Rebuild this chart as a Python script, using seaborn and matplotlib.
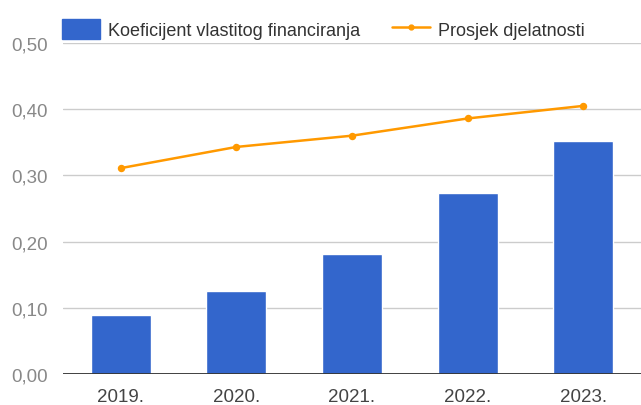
import numpy as np
import pandas as pd

import matplotlib
matplotlib.use('Agg')

import matplotlib.pyplot as plt
import seaborn as sns
from matplotlib.patches import Patch
from matplotlib.lines import Line2D

years = ["2019.", "2020.", "2021.", "2022.", "2023."]
koeficijent = [0.089, 0.125, 0.182, 0.274, 0.352]
prosjek = [0.311, 0.343, 0.360, 0.386, 0.405]
y_ticks = [0.0, 0.1, 0.2, 0.3, 0.4, 0.5]
y_labels = ["0,00", "0,10", "0,20", "0,30", "0,40", "0,50"]

bar_color = "#3366CC"
line_color = "#FF9900"

sns.set_style("white")
plt.rcParams['font.family'] = ['Liberation Sans', 'DejaVu Sans']

df = pd.DataFrame({"godina": years, "koef": koeficijent, "prosjek": prosjek})

fig = plt.figure(figsize=(6.41, 4.06), dpi=100)
ax = fig.add_axes([63 / 641, 31 / 406, 1 - 63 / 641, 331 / 406])

sns.barplot(data=df, x="godina", y="koef", color=bar_color, width=0.52,
            saturation=1, ax=ax, zorder=2)
sns.pointplot(data=df, x="godina", y="prosjek", color=line_color,
              markers="o", markersize=4, linewidth=1.8, ax=ax, zorder=3)

ax.set_ylim(0, 0.5)
ax.set_xlim(-0.5, 4.5)
ax.set_yticks(y_ticks)
ax.set_yticklabels(y_labels)
ax.set_xlabel("")
ax.set_ylabel("")
ax.grid(axis="y", color="#cccccc", linewidth=1, zorder=0)
ax.axhline(0, color="#333333", linewidth=1.3, zorder=4)
for s in ax.spines.values():
    s.set_visible(False)
ax.tick_params(axis="both", length=0, labelsize=13.5)
ax.tick_params(axis="y", pad=11, labelcolor="#888888")
ax.tick_params(axis="x", pad=10, labelcolor="#444444")

handles = [Patch(facecolor=bar_color, edgecolor=bar_color),
           Line2D([0], [0], color=line_color, linewidth=1.8, marker="o", markersize=3.5)]
fig.legend(handles, ["Koeficijent vlastitog financiranja", "Prosjek djelatnosti"],
           loc="center left", bbox_to_anchor=(62 / 641, 1 - 30 / 406), ncol=2,
           frameon=False, fontsize=13, handlelength=2.1, handleheight=1.35,
           handletextpad=0.45, columnspacing=1.75, borderpad=0,
           borderaxespad=0, labelcolor="#333333")

plt.savefig("out.png", dpi=100)
plt.close()
